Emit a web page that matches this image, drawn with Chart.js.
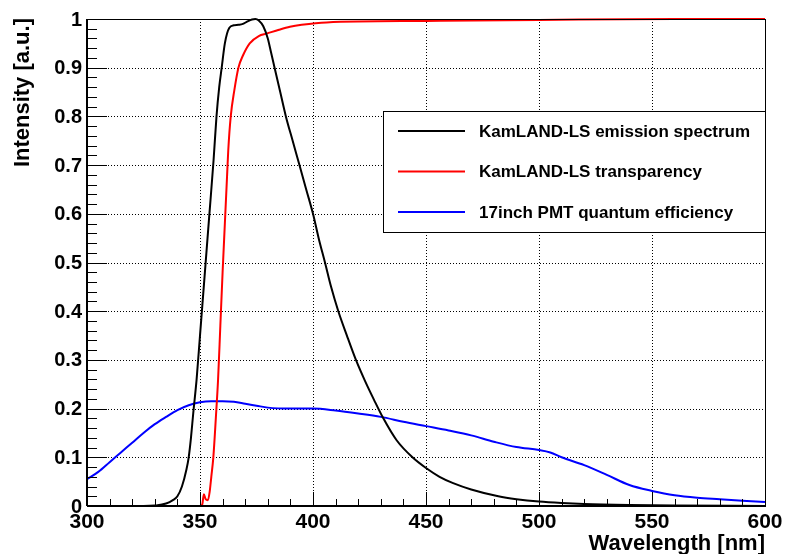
<!DOCTYPE html>
<html lang="en">
<head>
    <meta charset="UTF-8">
    <title>KamLAND-LS spectra</title>
    <script src="https://cdn.jsdelivr.net/npm/chart.js"></script>
    <style>
        body { margin: 0; background: #fff; }
        #chart { display: block; }
    </style>
</head>
<body>
    <canvas id="chart" width="785" height="554"></canvas>
    <script>
        // wavelength [nm] / intensity pairs
        const emissionWl = [300, 325, 330, 335, 338, 340, 342, 344, 345, 346, 347, 348.5, 350, 352, 354, 356, 357.3, 358.5, 359.6, 361, 363, 365, 367, 369, 371, 373, 374.5, 376, 378, 380, 381.5, 383, 385.5, 388, 391, 394, 397, 400, 402.5, 405.3, 408, 411.2, 415, 419, 423, 427, 431, 437, 444, 450, 456, 462, 470, 482, 490, 500, 510, 520, 540, 560, 600];
        const emissionVal = [0, 0, 0.001, 0.005, 0.012, 0.02, 0.04, 0.075, 0.1, 0.14, 0.19, 0.26, 0.35, 0.47, 0.59, 0.71, 0.8, 0.86, 0.9, 0.95, 0.982, 0.987, 0.988, 0.99, 0.995, 0.999, 1.0, 0.997, 0.985, 0.96, 0.93, 0.9, 0.85, 0.8, 0.75, 0.7, 0.65, 0.6, 0.55, 0.5, 0.45, 0.4, 0.35, 0.3, 0.257, 0.218, 0.181, 0.135, 0.1, 0.078, 0.06, 0.047, 0.034, 0.02, 0.014, 0.009, 0.006, 0.004, 0.002, 0.001, 0];

        const transWl = [300, 350, 351, 351.7, 352.5, 353.5, 354.3, 355, 355.9, 357, 358, 359, 360, 361, 362, 362.5, 363.6, 365.2, 367, 369, 372, 376, 379.5, 385, 389.8, 395, 406, 450, 500, 560, 600];
        const transVal = [0, 0, 0.003, 0.024, 0.014, 0.012, 0.03, 0.06, 0.1, 0.18, 0.26, 0.37, 0.48, 0.58, 0.68, 0.73, 0.8, 0.854, 0.9, 0.925, 0.95, 0.965, 0.97, 0.978, 0.984, 0.988, 0.993, 0.996, 0.998, 1, 1];

        const pmtWl = [300, 305, 310, 315, 320, 325, 330, 335, 340, 345, 350, 355, 360, 365, 370, 375, 380, 390, 400, 410, 420, 430, 440, 450, 460, 470, 480, 490, 500, 505, 510, 520, 530, 540, 550, 560, 570, 580, 590, 600];
        const pmtVal = [0.055, 0.07, 0.09, 0.11, 0.13, 0.15, 0.168, 0.183, 0.197, 0.207, 0.213, 0.215, 0.215, 0.214, 0.21, 0.206, 0.202, 0.2, 0.2, 0.196, 0.19, 0.183, 0.173, 0.164, 0.155, 0.145, 0.132, 0.121, 0.115, 0.11, 0.1, 0.084, 0.064, 0.043, 0.031, 0.022, 0.017, 0.014, 0.011, 0.008];

        const seriesNames = ["KamLAND-LS emission spectrum", "KamLAND-LS transparency", "17inch PMT quantum efficiency"];
        const seriesColors = ["#000000", "#ff0000", "#0000ff"];

        const xTicks = [300, 350, 400, 450, 500, 550, 600];
        const yTicks = [0, 0.1, 0.2, 0.3, 0.4, 0.5, 0.6, 0.7, 0.8, 0.9, 1];
        const yTickLabels = ["0", "0.1", "0.2", "0.3", "0.4", "0.5", "0.6", "0.7", "0.8", "0.9", "1"];
        const xTitle = "Wavelength [nm]";
        const yTitle = "Intensity [a.u.]";

        const FONT = "'Liberation Sans', Arial, Helvetica, sans-serif";

        function toPoints(xs, ys) {
            return xs.map((x, i) => ({ x: x, y: ys[i] }));
        }

        // ROOT-like frame: dotted grid, inner ticks, labels, titles and boxed legend
        const rootStyle = {
            id: "rootStyle",
            beforeDatasetsDraw(chart) {
                const ctx = chart.ctx;
                const a = chart.chartArea;
                const xs = chart.scales.x, ys = chart.scales.y;
                ctx.save();
                ctx.strokeStyle = "#000";
                ctx.lineWidth = 1;
                ctx.setLineDash([1, 2]);
                xTicks.forEach(v => {
                    const px = Math.round(xs.getPixelForValue(v)) + 0.5;
                    ctx.beginPath(); ctx.moveTo(px, a.bottom); ctx.lineTo(px, a.top); ctx.stroke();
                });
                yTicks.forEach(v => {
                    const py = Math.round(ys.getPixelForValue(v)) + 0.5;
                    ctx.beginPath(); ctx.moveTo(a.left, py); ctx.lineTo(a.right, py); ctx.stroke();
                });
                ctx.restore();
            },
            afterDatasetsDraw(chart) {
                const ctx = chart.ctx;
                const a = chart.chartArea;
                const xs = chart.scales.x, ys = chart.scales.y;
                ctx.save();
                ctx.strokeStyle = "#000";
                ctx.lineWidth = 1;
                ctx.setLineDash([]);
                // frame
                ctx.strokeRect(Math.round(a.left) + 0.5, Math.round(a.top) + 0.5,
                    Math.round(a.right - a.left), Math.round(a.bottom - a.top));
                ctx.lineWidth = 2;
                ctx.beginPath();
                ctx.moveTo(a.left, a.bottom); ctx.lineTo(a.right, a.bottom);
                ctx.moveTo(a.left, a.bottom); ctx.lineTo(a.left, a.top);
                ctx.stroke();

                // x ticks: major every 50, minor every 10
                ctx.lineWidth = 1;
                ctx.beginPath();
                for (let v = 300; v <= 600; v += 10) {
                    const px = Math.round(xs.getPixelForValue(v)) + 0.5;
                    const len = (v % 50 === 0) ? 14 : 7;
                    ctx.moveTo(px, a.bottom); ctx.lineTo(px, a.bottom - len);
                }
                // y ticks: major every 0.1, minor every 0.02
                for (let i = 0; i <= 50; i++) {
                    const py = Math.round(ys.getPixelForValue(i * 0.02)) + 0.5;
                    const len = (i % 5 === 0) ? 20 : 10;
                    ctx.moveTo(a.left, py); ctx.lineTo(a.left + len, py);
                }
                ctx.stroke();

                // tick labels
                ctx.fillStyle = "#000";
                ctx.font = "bold 21px " + FONT;
                ctx.textAlign = "center";
                ctx.textBaseline = "alphabetic";
                xTicks.forEach(v => {
                    ctx.fillText(String(v), xs.getPixelForValue(v), a.bottom + 22);
                });
                ctx.font = "bold 20px " + FONT;
                ctx.textAlign = "right";
                ctx.textBaseline = "middle";
                yTicks.forEach((v, i) => {
                    ctx.fillText(yTickLabels[i], a.left - 5, ys.getPixelForValue(v) + 1);
                });

                // axis titles
                ctx.font = "bold 22px " + FONT;
                ctx.textAlign = "right";
                ctx.textBaseline = "alphabetic";
                ctx.fillText(xTitle, a.right, 550);
                ctx.save();
                ctx.translate(29, 18);
                ctx.rotate(-Math.PI / 2);
                ctx.textAlign = "right";
                ctx.fillText(yTitle, 0, 0);
                ctx.restore();

                // legend box
                const lx = 383, ly = 111, lw = 382, lh = 121;
                ctx.fillStyle = "#fff";
                ctx.fillRect(lx, ly, lw, lh);
                ctx.strokeStyle = "#000";
                ctx.lineWidth = 1;
                ctx.strokeRect(lx + 0.5, ly + 0.5, lw, lh);
                ctx.lineWidth = 2;
                ctx.font = "bold 17px " + FONT;
                ctx.textAlign = "left";
                ctx.textBaseline = "middle";
                chart.data.datasets.forEach((ds, i) => {
                    const y = ly + 20 + i * 40.5;
                    ctx.strokeStyle = ds.borderColor;
                    ctx.beginPath(); ctx.moveTo(398, y); ctx.lineTo(465, y); ctx.stroke();
                    ctx.fillStyle = "#000";
                    ctx.fillText(ds.label, 479, y + 1);
                });
                ctx.restore();
            }
        };

        new Chart(document.getElementById("chart").getContext("2d"), {
            type: "line",
            data: {
                datasets: [
                    { label: seriesNames[0], data: toPoints(emissionWl, emissionVal), borderColor: seriesColors[0] },
                    { label: seriesNames[1], data: toPoints(transWl, transVal), borderColor: seriesColors[1] },
                    { label: seriesNames[2], data: toPoints(pmtWl, pmtVal), borderColor: seriesColors[2] }
                ]
            },
            options: {
                responsive: false,
                animation: false,
                parsing: false,
                layout: { padding: { left: 87, right: 20, top: 19, bottom: 48 } },
                elements: {
                    point: { radius: 0 },
                    line: { borderWidth: 2, cubicInterpolationMode: "monotone", fill: false }
                },
                datasets: { line: { clip: { left: 0, top: 3, right: 0, bottom: 1 } } },
                scales: {
                    x: { type: "linear", min: 300, max: 600, display: false },
                    y: { type: "linear", min: 0, max: 1, display: false }
                },
                plugins: { legend: { display: false }, tooltip: { enabled: false } }
            },
            plugins: [rootStyle]
        });
    </script>
</body>
</html>
